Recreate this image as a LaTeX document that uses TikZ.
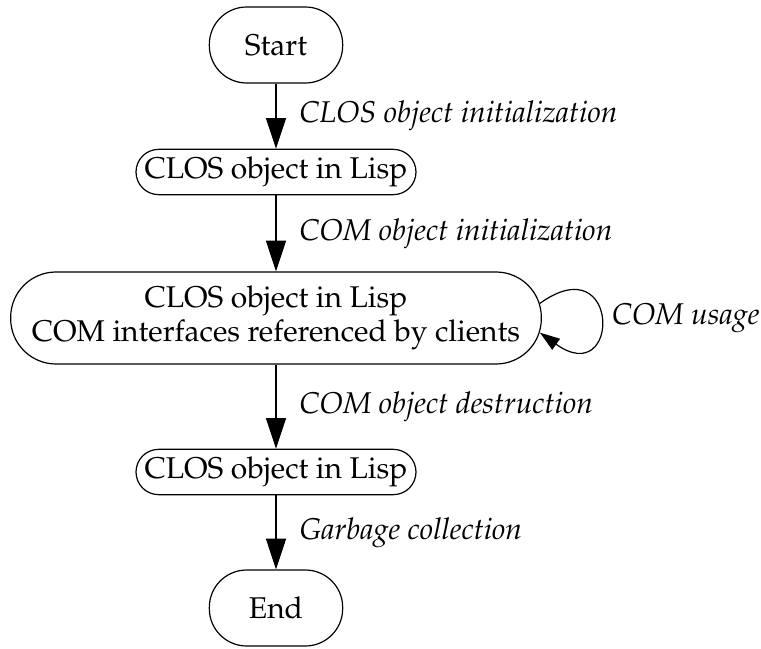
\documentclass[tikz,border=0pt]{standalone}
\usepackage[T1]{fontenc}
\usepackage{mathpazo}
\usetikzlibrary{arrows.meta}

\begin{document}
\begin{tikzpicture}
[x=0.75pt,y=-0.75pt,line width=0.9pt,%
  every node/.style={font=\fontsize{22.5}{25}\selectfont},%
  state/.style={draw,rectangle,inner sep=0pt,align=center},%
  arr/.style={-{Triangle[length=23pt,width=15pt]}},%
  note/.style={font=\fontsize{22.5}{25}\selectfont\itshape},%
  lbl/.style={note,right,xshift=14pt}]
\useasboundingbox (0,0) rectangle (761,649);
\node[state,minimum width=100pt,minimum height=57pt,rounded corners=28pt] (start) at (276,45) {Start};
\node[state,minimum width=210pt,minimum height=34pt,rounded corners=17pt] (clos1) at (276,172) {CLOS object in Lisp};
\node[state,minimum width=398pt,minimum height=69pt,rounded corners=34pt] (used) at (276,318)
  {CLOS object in Lisp\\COM interfaces referenced by clients};
\node[state,minimum width=210pt,minimum height=34pt,rounded corners=17pt] (clos2) at (276,472) {CLOS object in Lisp};
\node[state,minimum width=100pt,minimum height=57pt,rounded corners=28pt] (end) at (276,608) {End};

\draw[arr] (start) -- node[lbl] {CLOS object initialization} (clos1);
\draw[arr] (clos1) -- node[lbl] {COM object initialization} (used);
\draw[arr] (used) -- node[lbl] {COM object destruction} (clos2);
\draw[arr] (clos2) -- node[lbl] {Garbage collection} (end);
% self loop
\draw[-{Triangle[length=15pt,width=10pt]}] ([xshift=-1.5pt,yshift=11pt]used.east)
  .. controls +(81,-58) and +(81,58) .. ([xshift=-1.5pt,yshift=-11pt]used.east);
\node[note,anchor=west] (usage) at (607,318) {COM usage};
\end{tikzpicture}
\end{document}
